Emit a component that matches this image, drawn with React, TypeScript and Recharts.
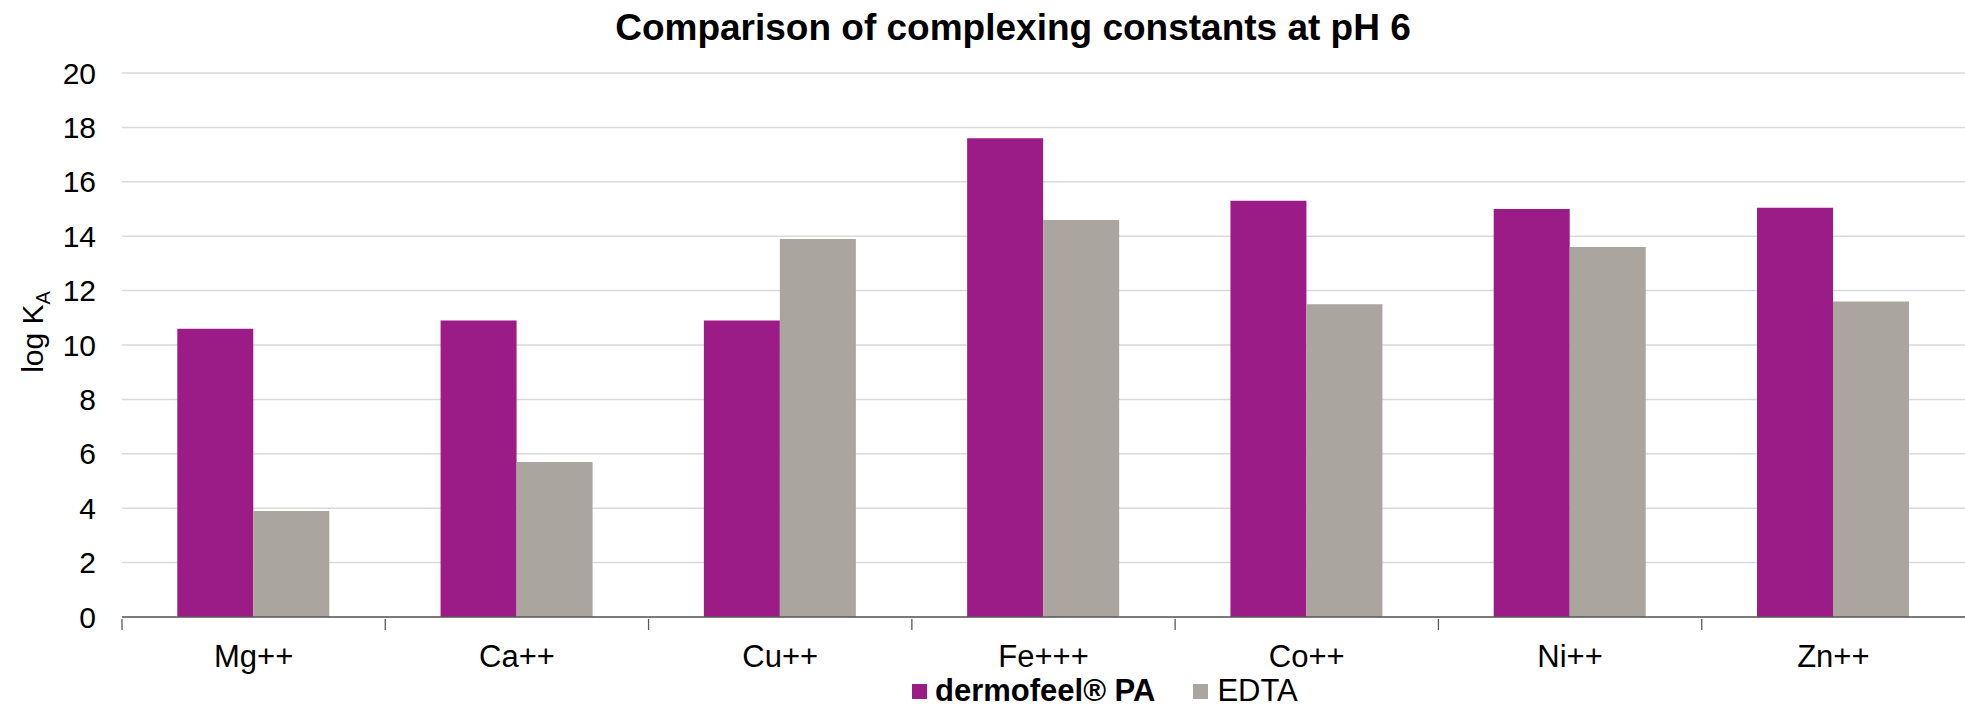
import { Bar, BarChart, CartesianGrid, XAxis, YAxis } from 'recharts';

const ions = ['Mg++', 'Ca++', 'Cu++', 'Fe+++', 'Co++', 'Ni++', 'Zn++'];
const dermofeelPA = [10.6, 10.9, 10.9, 17.6, 15.3, 15.0, 15.05];
const edta = [3.9, 5.7, 13.9, 14.6, 11.5, 13.6, 11.6];
const yTicks = [0, 2, 4, 6, 8, 10, 12, 14, 16, 18, 20];

const FONT = '"Liberation Sans", Arial, sans-serif';
const PURPLE = '#9b1c87';
const GRAY = '#aaa69f';

const data = ions.map((ion, i) => ({ ion, pa: dermofeelPA[i], edta: edta[i] }));

// category label plus a tick mark on the left boundary of each band
function IonTick(props: any) {
  const { x, y, payload } = props;
  const left = x - (payload.offset ?? 0);
  return (
    <g>
      <line x1={left} y1={y - 6} x2={left} y2={y + 5} stroke="#595959" strokeWidth={1.3} />
      <text x={x} y={y + 42} textAnchor="middle" fontFamily={FONT} fontSize={31} fill="#000">
        {payload.value}
      </text>
    </g>
  );
}

function AxisTitle() {
  return (
    <text transform="translate(43 332) rotate(-90)" textAnchor="middle" fontFamily={FONT} fontSize={30} fill="#000">
      log K<tspan fontSize={20} dy={7}>A</tspan>
    </text>
  );
}

function LegendRow() {
  return (
    <div
      style={{
        position: 'absolute',
        left: 912,
        top: 673,
        height: 36,
        display: 'flex',
        alignItems: 'center',
        fontFamily: FONT,
        fontSize: 31,
        lineHeight: '36px',
        color: '#000',
        whiteSpace: 'nowrap',
      }}
    >
      <span style={{ width: 15, height: 15, background: PURPLE, marginRight: 8 }} />
      <span style={{ fontWeight: 'bold', marginRight: 38 }}>dermofeel® PA</span>
      <span style={{ width: 15, height: 15, background: GRAY, marginRight: 9 }} />
      <span>EDTA</span>
    </div>
  );
}

export default function App() {
  return (
    <div style={{ position: 'absolute', left: 0, top: 0, width: 1965, height: 709, background: '#fff', overflow: 'hidden' }}>
      <div
        style={{
          position: 'absolute',
          top: 6,
          left: 0,
          width: 2026,
          textAlign: 'center',
          fontFamily: FONT,
          fontWeight: 'bold',
          fontSize: 37,
          lineHeight: '44px',
          color: '#000',
        }}
      >
        Comparison of complexing constants at pH 6
      </div>
      <BarChart
        width={1965}
        height={709}
        data={data}
        margin={{ top: 73, right: 0, bottom: 0, left: 0 }}
        barCategoryGap="21%"
        barGap={0}
      >
        <CartesianGrid vertical={false} stroke="#d9d9d9" strokeWidth={1.5} />
        <XAxis
          dataKey="ion"
          height={92}
          tick={<IonTick />}
          tickLine={false}
          axisLine={{ stroke: '#595959', strokeWidth: 1.3 }}
          interval={0}
        />
        <YAxis
          width={122}
          domain={[0, 20]}
          ticks={yTicks}
          interval={0}
          axisLine={false}
          tickLine={false}
          tick={{ fontFamily: FONT, fontSize: 30, fill: '#000', dx: -18 }}
          label={<AxisTitle />}
        />
        <Bar dataKey="pa" name="dermofeel® PA" fill={PURPLE} isAnimationActive={false} />
        <Bar dataKey="edta" name="EDTA" fill={GRAY} isAnimationActive={false} />
      </BarChart>
      <LegendRow />
    </div>
  );
}
